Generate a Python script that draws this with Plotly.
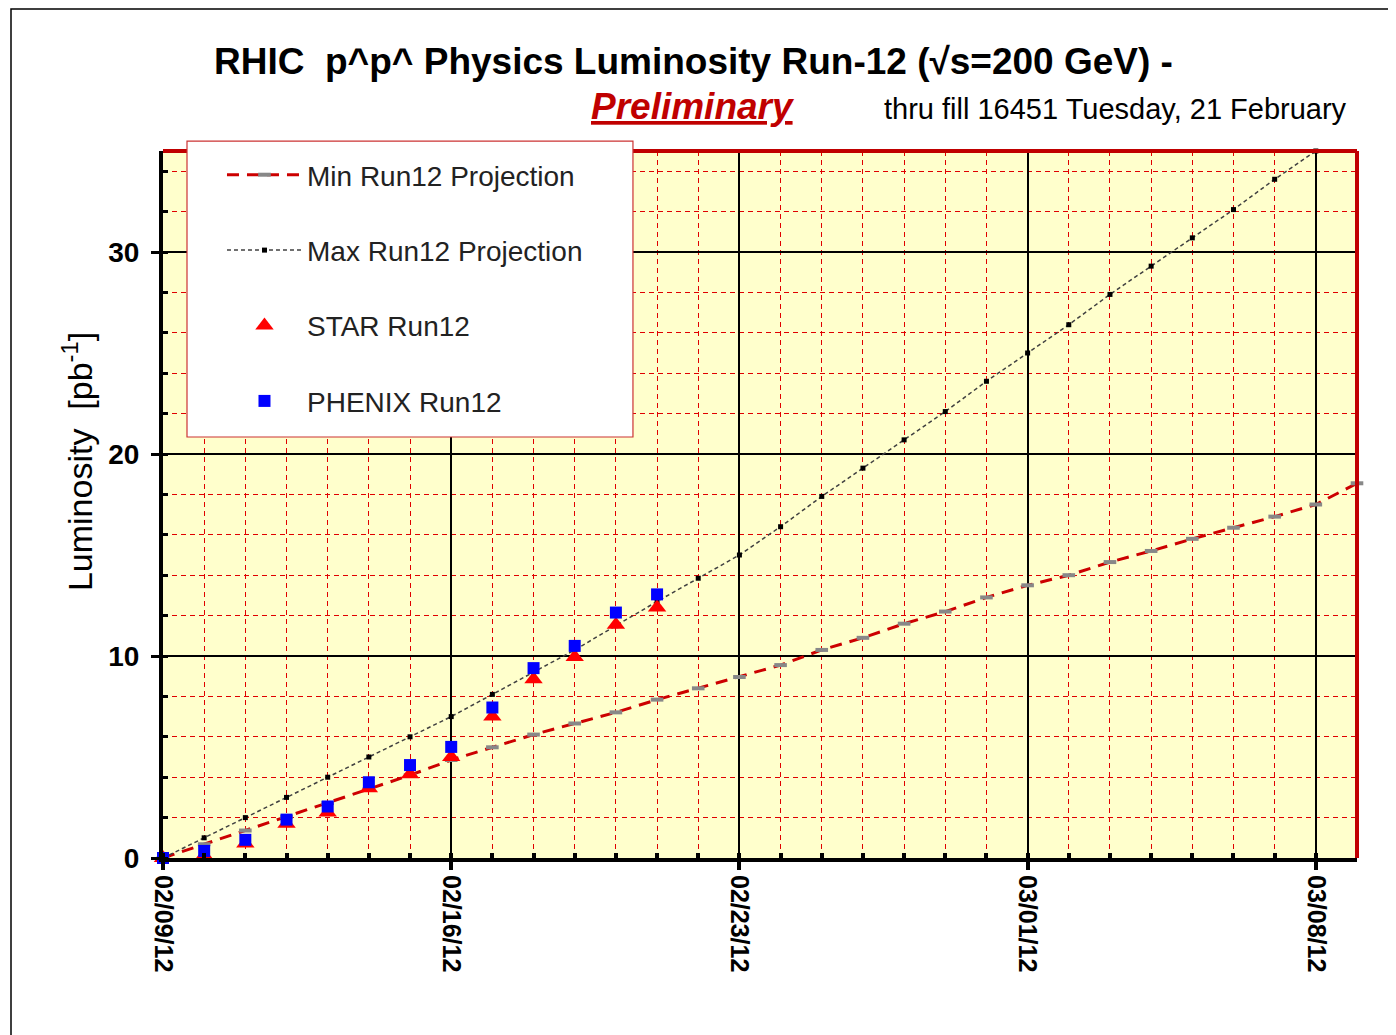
import plotly.graph_objects as go
import pandas as pd

# ---- data ----
proj_dates = pd.date_range("2012-02-09", "2012-03-09", freq="D").strftime("%Y-%m-%d").tolist()
min_proj = [0, 0.68, 1.36, 2.04, 2.72, 3.4, 4.1, 4.85, 5.48, 6.11, 6.66, 7.21, 7.84, 8.4,
            8.96, 9.55, 10.3, 10.9, 11.6, 12.2, 12.9, 13.5, 14.0, 14.65, 15.2, 15.8,
            16.35, 16.9, 17.5, 18.55]
max_proj = [0, 1.0, 2.0, 3.0, 4.0, 5.0, 6.0, 7.0, 8.1, 9.2, 10.3, 11.5, 12.7, 13.85,
            15.0, 16.4, 17.9, 19.3, 20.7, 22.1, 23.6, 25.0, 26.4, 27.9, 29.3, 30.7,
            32.1, 33.6, 35.0]
data_dates = proj_dates[:13]
star = [0.0, 0.12, 0.72, 1.7, 2.25, 3.45, 4.15, 5.0, 7.0, 8.85, 9.95, 11.55, 12.4]
phenix = [0.0, 0.35, 0.9, 1.9, 2.55, 3.75, 4.6, 5.5, 7.45, 9.4, 10.5, 12.15, 13.05]

DAY = 86400000
RED = "#CC0000"
FONT = "Liberation Sans, Arial, sans-serif"

fig = go.Figure()
fig.add_trace(go.Scatter(
    x=proj_dates, y=min_proj, name="Min Run12 Projection", mode="lines+markers",
    line=dict(color=RED, width=3, dash="12px,8px"),
    marker=dict(symbol="line-ew", size=9, color="#888888", line=dict(color="#888888", width=4)),
    legendgroup="a", cliponaxis=False))
fig.add_trace(go.Scatter(
    x=proj_dates[:len(max_proj)], y=max_proj, name="Max Run12 Projection", mode="lines+markers",
    line=dict(color="#404040", width=1.5, dash="4px,3px"),
    marker=dict(symbol="square", size=5, color="black"),
    legendgroup="b", cliponaxis=False))
fig.add_trace(go.Scatter(
    x=data_dates, y=star, name="STAR Run12", mode="markers",
    marker=dict(symbol="triangle-up", size=16, color="#FF0000"),
    legendgroup="c", cliponaxis=False))
fig.add_trace(go.Scatter(
    x=data_dates, y=phenix, name="PHENIX Run12", mode="markers",
    marker=dict(symbol="square", size=12, color="#0000FF"),
    legendgroup="d", cliponaxis=False))

fig.update_layout(
    width=1396, height=1035,
    margin=dict(l=155, r=47, t=143, b=185),
    paper_bgcolor="white", plot_bgcolor="#FFFFCC",
    font=dict(family=FONT, color="black"),
    showlegend=True,
    legend=dict(x=0.0494, y=1.0014, xanchor="left", yanchor="top",
                bgcolor="rgba(0,0,0,0)", borderwidth=0,
                font=dict(size=28, family=FONT, color="#222222"),
                traceorder="grouped", tracegroupgap=36, itemwidth=75,
                itemsizing="trace"),
    xaxis=dict(
        type="date", range=["2012-02-09", "2012-03-09"],
        tick0="2012-02-09", dtick=7 * DAY, tickformat="%m/%d/%y",
        tickangle=90, tickfont=dict(size=25, weight="bold"),
        showgrid=True, gridcolor="black", gridwidth=1.5,
        showline=True, linecolor="black", linewidth=4,
        ticks="outside", ticklen=8, tickwidth=4, tickcolor="black",
        minor=dict(dtick=DAY, tick0="2012-02-09", showgrid=True, gridcolor="#E00000",
                   griddash="5px,4px", gridwidth=1.3, ticks="inside", ticklen=5,
                   tickwidth=4, tickcolor="black"),
        zeroline=False),
    yaxis=dict(
        range=[0, 35], dtick=10, tick0=0,
        tickfont=dict(size=28, weight="bold"), ticklabelstandoff=6,
        showgrid=True, gridcolor="black", gridwidth=1.5,
        showline=True, linecolor="black", linewidth=4,
        ticks="outside", ticklen=8, tickwidth=3, tickcolor="black",
        minor=dict(dtick=2, showgrid=True, gridcolor="#E00000", griddash="5px,4px",
                   gridwidth=1.3, ticks="inside", ticklen=5, tickwidth=3, tickcolor="black"),
        zeroline=False),
    shapes=[
        dict(type="line", xref="paper", yref="paper", x0=0, x1=1, y0=1, y1=1,
             line=dict(color="#C00000", width=4), layer="above"),
        dict(type="line", xref="paper", yref="paper", x0=1, x1=1, y0=0, y1=1,
             line=dict(color="#C00000", width=4), layer="above"),
        dict(type="rect", xref="paper", yref="paper", x0=0.0201, x1=0.3936, y0=0.5955, y1=1.0141,
             fillcolor="white", line=dict(color="#CC3333", width=1.2), layer="above"),
        dict(type="rect", xref="paper", yref="paper", x0=-0.1273, x1=1.04, y0=-0.3, y1=1.2008,
             line=dict(color="black", width=1.5), layer="below"),
    ],
    annotations=[
        dict(text="RHIC  p^p^ Physics Luminosity Run-12 (√s=200 GeV) -", xref="paper", yref="paper",
             x=0.4439, y=1.126, xanchor="center", yanchor="middle", showarrow=False,
             font=dict(size=37, weight="bold", family=FONT)),
        dict(text="<b><i><u>Preliminary</u></i></b>", xref="paper", yref="paper",
             x=0.4439, y=1.0636, xanchor="center", yanchor="middle", showarrow=False,
             font=dict(size=37, color="#C00000", family=FONT)),
        dict(text="thru fill 16451 Tuesday, 21 February", xref="paper", yref="paper",
             x=0.6022, y=1.0594, xanchor="left", yanchor="middle", showarrow=False,
             font=dict(size=29, family=FONT)),
        dict(text="Luminosity  [pb<sup>-1</sup>]", xref="paper", yref="paper",
             x=-0.072, y=0.56, xanchor="center", yanchor="middle", showarrow=False,
             textangle=-90, font=dict(size=34)),
    ],
)

fig.write_html("out.html")
